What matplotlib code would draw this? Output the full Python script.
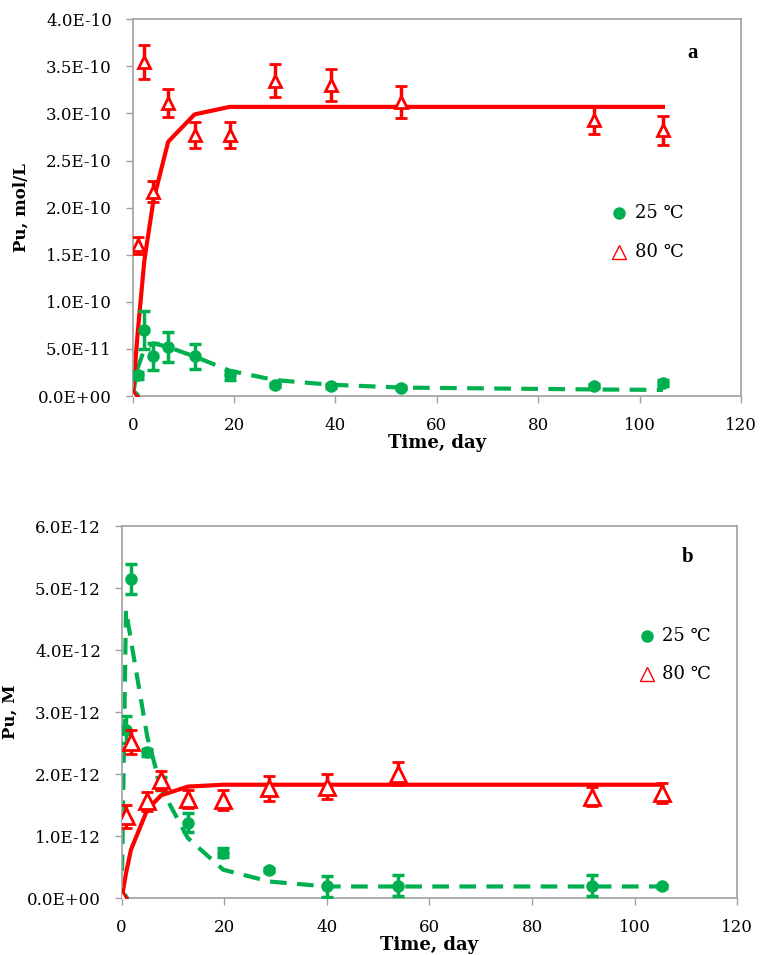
import matplotlib
matplotlib.use('Agg')
import matplotlib.pyplot as plt
from matplotlib.ticker import FuncFormatter

plt.rcParams['font.family'] = ['DejaVu Serif']

GREEN = '#00B050'
RED = '#FF0000'
GRAY = '#A0A0A0'

x_ticks = [0, 20, 40, 60, 80, 100, 120]

# panel a: Pu, mol/L
a_days = [0, 1.0, 2.3, 4.1, 7.0, 12.2, 19.1, 28.0, 39.1, 53.0, 91.0, 104.6]
a_25 = [0, 0.22e-10, 0.70e-10, 0.42e-10, 0.52e-10, 0.42e-10, 0.22e-10,
        0.12e-10, 0.11e-10, 0.09e-10, 0.11e-10, 0.135e-10]
a_25_err = [0, 0.04e-10, 0.20e-10, 0.14e-10, 0.16e-10, 0.13e-10, 0.05e-10,
            0.02e-10, 0.02e-10, 0.02e-10, 0.02e-10, 0.03e-10]
a_80 = [0, 1.60e-10, 3.55e-10, 2.17e-10, 3.11e-10, 2.77e-10, 2.77e-10,
        3.35e-10, 3.30e-10, 3.12e-10, 2.93e-10, 2.82e-10]
a_80_err = [0, 0.09e-10, 0.18e-10, 0.11e-10, 0.15e-10, 0.14e-10, 0.14e-10,
            0.18e-10, 0.17e-10, 0.17e-10, 0.15e-10, 0.15e-10]
a_25_fit = [0, 0.30e-10, 0.50e-10, 0.56e-10, 0.52e-10, 0.42e-10, 0.27e-10,
            0.17e-10, 0.12e-10, 0.09e-10, 0.07e-10, 0.065e-10]
a_80_fit = [0, 0.68e-10, 1.44e-10, 2.08e-10, 2.70e-10, 2.99e-10, 3.07e-10,
            3.07e-10, 3.07e-10, 3.07e-10, 3.07e-10, 3.07e-10]
a_yticks = [0, 0.5e-10, 1.0e-10, 1.5e-10, 2.0e-10, 2.5e-10, 3.0e-10,
            3.5e-10, 4.0e-10]

# panel b: Pu, M
b_days = [0, 0.84, 1.8, 5.0, 7.7, 12.9, 19.8, 28.8, 40.0, 53.9, 91.7, 105.4]
b_25 = [0, 2.72e-12, 5.15e-12, 2.35e-12, 1.85e-12, 1.22e-12, 0.735e-12,
        0.455e-12, 0.19e-12, 0.20e-12, 0.20e-12, 0.19e-12]
b_25_err = [0, 0.22e-12, 0.24e-12, 0.05e-12, 0.10e-12, 0.15e-12, 0.07e-12,
            0.03e-12, 0.17e-12, 0.17e-12, 0.17e-12, 0.03e-12]
b_80 = [0, 1.32e-12, 2.52e-12, 1.56e-12, 1.90e-12, 1.60e-12, 1.58e-12,
        1.77e-12, 1.80e-12, 2.01e-12, 1.64e-12, 1.69e-12]
b_80_err = [0, 0.19e-12, 0.20e-12, 0.16e-12, 0.15e-12, 0.14e-12, 0.16e-12,
            0.20e-12, 0.20e-12, 0.18e-12, 0.15e-12, 0.16e-12]
b_25_fit = [0, 4.65e-12, 4.16e-12, 2.60e-12, 1.77e-12, 0.97e-12, 0.46e-12,
            0.27e-12, 0.19e-12, 0.19e-12, 0.19e-12, 0.19e-12]
b_80_fit = [0, 0.40e-12, 0.78e-12, 1.43e-12, 1.66e-12, 1.80e-12, 1.83e-12,
            1.83e-12, 1.83e-12, 1.83e-12, 1.83e-12, 1.83e-12]
b_yticks = [0, 1e-12, 2e-12, 3e-12, 4e-12, 5e-12, 6e-12]


def sci(v, pos):
    return '%.1E' % v


def draw_panel(ax, days, v25, e25, v80, e80, f25, f80, yticks,
               ylabel, tag, tag_y, leg_x, leg_y, tri_ms):
    ax.plot(days, f25, color=GREEN, lw=3, ls=(0, (4, 2.5)), zorder=2)
    ax.plot(days, f80, color=RED, lw=3, zorder=2)
    ax.errorbar(days, v25, yerr=e25, fmt='o', color=GREEN, ms=8,
                elinewidth=2.5, capsize=4, capthick=2.5, zorder=3)
    ax.errorbar(days, v80, yerr=e80, fmt='^', color=RED, mfc='white',
                mec=RED, mew=2, ms=tri_ms, elinewidth=2.5, capsize=4,
                capthick=2.5, zorder=4)
    ax.set_xlim(0, 120)
    ax.set_ylim(0, yticks[-1])
    ax.set_xticks(x_ticks)
    ax.set_yticks(yticks)
    ax.yaxis.set_major_formatter(FuncFormatter(sci))
    for s in ax.spines.values():
        s.set_color(GRAY)
        s.set_linewidth(1.2)
    ax.tick_params(direction='out', length=5, color=GRAY, labelsize=12,
                   width=1, pad=10)
    ax.set_xlabel('Time, day', fontweight='bold', fontsize=13, labelpad=0)
    ax.set_ylabel(ylabel, fontweight='bold', fontsize=12, labelpad=6)
    ax.text(0.92, tag_y, tag, transform=ax.transAxes,
            fontsize=15, fontweight='bold', family='Liberation Serif',
            ha='center', va='center')
    ax.plot([leg_x], [leg_y[0]], 'o', color=GREEN, ms=8,
            transform=ax.transAxes, clip_on=False)
    ax.plot([leg_x], [leg_y[1]], '^', color=RED, mfc='white', mew=1,
            ms=10, transform=ax.transAxes, clip_on=False)
    ax.text(leg_x + 0.025, leg_y[0], '25 \u2103', transform=ax.transAxes,
            fontsize=13, va='center')
    ax.text(leg_x + 0.025, leg_y[1], '80 \u2103', transform=ax.transAxes,
            fontsize=13, va='center')


fig = plt.figure(figsize=(7.6, 9.55), dpi=100)
ax1 = fig.add_axes([0.1746, 0.5853, 0.8004, 0.3945])
ax2 = fig.add_axes([0.1601, 0.0594, 0.8100, 0.3898])

draw_panel(ax1, a_days, a_25, a_25_err, a_80, a_80_err, a_25_fit, a_80_fit,
           a_yticks, 'Pu, mol/L', 'a', 0.91, 0.80, [0.486, 0.382], 8)
draw_panel(ax2, b_days, b_25, b_25_err, b_80, b_80_err, b_25_fit, b_80_fit,
           b_yticks, 'Pu, M', 'b', 0.916, 0.853, [0.705, 0.602], 12)

fig.savefig('out.png', dpi=100)
plt.close(fig)
